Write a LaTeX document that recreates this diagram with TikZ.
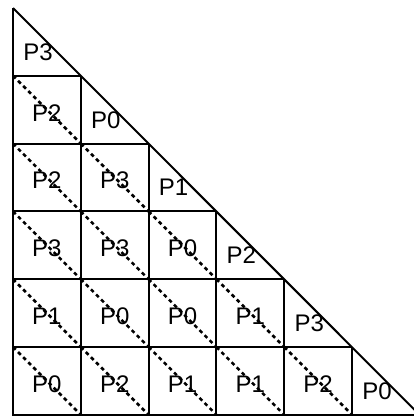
\documentclass[tikz,border=0pt]{standalone}
\usepackage{fontspec}
\setmainfont{Liberation Sans}
\begin{document}
\begin{tikzpicture}[x=1pt,y=-1pt,
  gridline/.style={line width=2pt},
  diag/.style={line width=2.6pt, dash pattern=on 3.8pt off 3.4pt},
  lab/.style={font=\fontsize{24}{24}\selectfont, inner sep=0pt}]
\useasboundingbox (0,0) rectangle (414,416);
\def\u{67.8}
\coordinate (apex) at (13,8);
\coordinate (bl) at (13,415);
\coordinate (br) at (13+6*\u,415);
% outer triangle
\draw[gridline] (apex) -- (bl) -- (br);
\draw[gridline] (apex) -- (br);
% horizontal lines
\foreach \j in {1,...,5} {
  \coordinate (hl\j) at (13,8+\j*\u);
  \coordinate (hr\j) at (13+\j*\u,8+\j*\u);
  \draw[gridline] (hl\j) -- (hr\j);
}
% vertical lines
\foreach \i in {1,...,5} {
  \coordinate (vt\i) at (13+\i*\u,8+\i*\u);
  \coordinate (vb\i) at (13+\i*\u,415);
  \draw[gridline] (vt\i) -- (vb\i);
}
% dashed diagonals in full squares
\foreach \j in {1,...,5} {
  \pgfmathtruncatemacro{\jm}{\j-1}
  \foreach \i in {0,...,\jm} {
    \coordinate (d\i\j a) at (13+\i*\u,8+\j*\u);
    \coordinate (d\i\j b) at (13+\i*\u+\u,8+\j*\u+\u);
    \draw[diag] (d\i\j a) -- (d\i\j b);
  }
}
% square labels: row j, column i
\newcommand{\sqlab}[3]{\node[lab] (s#1#2) at (13+#1*\u+0.5*\u,8+#2*\u+0.5*\u+3) {#3};}
\newcommand{\trlab}[2]{\node[lab] (t#1) at (13+#1*\u+25,8+#1*\u+44) {#2};}
\trlab{0}{P3}
\sqlab{0}{1}{P2} \trlab{1}{P0}
\sqlab{0}{2}{P2} \sqlab{1}{2}{P3} \trlab{2}{P1}
\sqlab{0}{3}{P3} \sqlab{1}{3}{P3} \sqlab{2}{3}{P0} \trlab{3}{P2}
\sqlab{0}{4}{P1} \sqlab{1}{4}{P0} \sqlab{2}{4}{P0} \sqlab{3}{4}{P1} \trlab{4}{P3}
\sqlab{0}{5}{P0} \sqlab{1}{5}{P2} \sqlab{2}{5}{P1} \sqlab{3}{5}{P1} \sqlab{4}{5}{P2} \trlab{5}{P0}
\end{tikzpicture}
\end{document}
